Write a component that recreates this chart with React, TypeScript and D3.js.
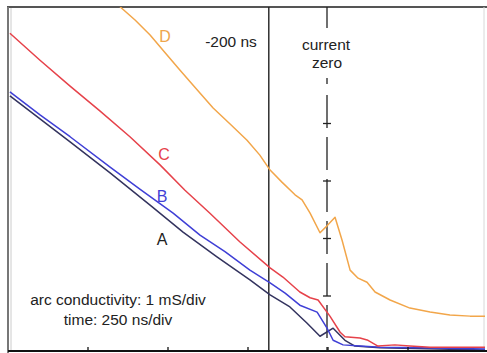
import React from "react";
import * as d3 from "d3";

// time in ns (current zero at 0), conductivity in mS
const timeA = [-994, -900, -806, -681, -556, -453, -347, -244, -181, -119, -66, -25, 16, 53, 84, 163, 491];
const condA = [4.48, 4.08, 3.68, 3.14, 2.58, 2.11, 1.68, 1.28, 1.02, 0.81, 0.53, 0.30, 0.44, 0.23, 0.13, 0.10, 0.06];

const timeB = [-994, -900, -806, -681, -588, -484, -400, -322, -244, -181, -134, -88, -34, -3, 16, 47, 100, 163, 288, 491];
const condB = [4.55, 4.15, 3.77, 3.24, 2.86, 2.44, 2.06, 1.77, 1.45, 1.23, 1.05, 0.84, 0.72, 0.44, 0.23, 0.15, 0.13, 0.11, 0.10, 0.08];

const timeC = [-994, -900, -806, -713, -619, -525, -447, -369, -275, -181, -141, -88, -56, -31, 6, 38, 53, 100, 125, 156, 209, 256, 319, 491];
const condC = [5.57, 5.10, 4.65, 4.22, 3.77, 3.28, 2.84, 2.44, 1.94, 1.49, 1.33, 1.07, 0.97, 0.93, 0.65, 0.37, 0.29, 0.27, 0.23, 0.13, 0.15, 0.13, 0.11, 0.11];

const timeD = [-650, -603, -556, -509, -463, -416, -359, -306, -253, -213, -181, -144, -103, -81, -56, -25, -3, 22, 44, 69, 94, 122, 147, 194, 256, 319, 381, 444, 491];
const condD = [6.03, 5.80, 5.54, 5.23, 4.93, 4.63, 4.27, 3.99, 3.71, 3.45, 3.19, 2.98, 2.76, 2.67, 2.44, 2.10, 2.22, 2.37, 1.97, 1.45, 1.31, 1.24, 1.07, 0.93, 0.79, 0.72, 0.67, 0.65, 0.65];

const seriesNames = ["A", "B", "C", "D"];
const markerTimes = [-185]; // the "-200 ns" line as drawn
const zeroTime = [0];
const condTicks = [1, 2, 3, 4];
const timeTicks = [-750, -500, -250, 0, 250];

const W = 487;
const H = 353;

export default function App() {
  const x = d3.scaleLinear().domain([-1000, 500]).range([8, 488]);
  const y = d3.scaleLinear().domain([0, 6]).range([353.5, 8.5]);

  const line = d3
    .line<[number, number]>()
    .x((d) => x(d[0]))
    .y((d) => y(d[1]));

  const mk = (t: number[], c: number[]) => t.map((v, i) => [v, c[i]] as [number, number]);

  const series = [
    { name: seriesNames[0], d: mk(timeA, condA), color: "#33335e" },
    { name: seriesNames[1], d: mk(timeB, condB), color: "#3f3fd6" },
    { name: seriesNames[2], d: mk(timeC, condC), color: "#e6424a" },
    { name: seriesNames[3], d: mk(timeD, condD), color: "#f2a64a" },
  ];

  const top = 7;
  const bottom = 351;
  const left = 9;
  const right = 485;
  const zx = x(zeroTime[0]) - 1;
  const font = "Liberation Sans, Arial, sans-serif";

  return (
    <svg
      width={W}
      height={H}
      style={{ position: "absolute", left: 0, top: 0, background: "#fff" }}
    >
      <defs>
        <clipPath id="plot">
          <rect x={left} y={top} width={right - left} height={bottom - top} />
        </clipPath>
      </defs>
      <rect x={0} y={0} width={W} height={H} fill="#fff" />

      {/* frame */}
      <line x1={7} x2={487} y1={top} y2={top} stroke="#555" strokeWidth={2} />
      <line x1={8} x2={8} y1={top} y2={H} stroke="#777" strokeWidth={2} />
      <line x1={11} x2={11} y1={top + 1} y2={bottom} stroke="#ccc" strokeWidth={1} />
      <line x1={484} x2={484} y1={top} y2={bottom} stroke="#d8d8d8" strokeWidth={1} />

      {/* -200 ns marker line */}
      {markerTimes.map((t) => (
        <line key={t} x1={x(t)} x2={x(t)} y1={top} y2={bottom} stroke="#222" strokeWidth={1.4} />
      ))}

      {/* current zero line */}
      <line x1={zx} x2={zx} y1={top} y2={28} stroke="#222" strokeWidth={1.3} />
      <line x1={zx} x2={zx} y1={78} y2={84} stroke="#222" strokeWidth={1.3} />
      <line
        x1={zx}
        x2={zx}
        y1={95}
        y2={bottom}
        stroke="#222"
        strokeWidth={1.3}
        strokeDasharray="33,9"
      />
      {condTicks.map((c) => (
        <line key={c} x1={zx - 4} x2={zx + 4} y1={y(c)} y2={y(c)} stroke="#222" strokeWidth={1.3} />
      ))}

      {/* series */}
      <g clipPath="url(#plot)">
        {series.map((s) => (
          <path
            key={s.name}
            d={line(s.d) || ""}
            fill="none"
            stroke={s.color}
            strokeWidth={1.5}
            strokeLinejoin="round"
          />
        ))}
      </g>

      {/* bottom axis */}
      <line x1={8} x2={487} y1={bottom} y2={bottom} stroke="#111" strokeWidth={2} />
      {timeTicks.map((t) => (
        <line key={t} x1={x(t)} x2={x(t)} y1={bottom - 4} y2={bottom} stroke="#111" strokeWidth={1.3} />
      ))}

      {/* labels */}
      <g fontFamily={font} fontSize={16}>
        <text x={165} y={42} textAnchor="middle" fill="#eea64c">D</text>
        <text x={164} y={160} textAnchor="middle" fill="#e6424a">C</text>
        <text x={162} y={202} textAnchor="middle" fill="#3f3fd6">B</text>
        <text x={162} y={245} textAnchor="middle" fill="#222">A</text>
      </g>
      <g fontFamily={font} fontSize={15.5} fill="#222">
        <text x={231} y={47} textAnchor="middle">-200 ns</text>
        <text x={326} y={50} textAnchor="middle">current</text>
        <text x={327} y={68} textAnchor="middle">zero</text>
        <text x={118} y={305} textAnchor="middle">arc conductivity: 1 mS/div</text>
        <text x={118} y={325} textAnchor="middle">time: 250 ns/div</text>
      </g>
    </svg>
  );
}
